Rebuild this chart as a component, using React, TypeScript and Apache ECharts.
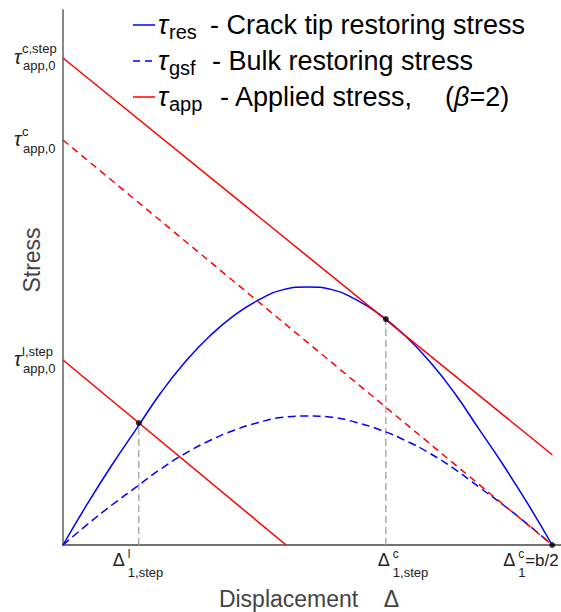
import React, { useEffect, useRef } from 'react';
import * as echarts from 'echarts';

// Displacement (fraction of b/2) and stresses (normalised to peak crack-tip restoring stress)
const displacement = [0, 0.05, 0.1, 0.15, 0.2, 0.25, 0.3, 0.35, 0.4, 0.45, 0.5, 0.55, 0.6, 0.65, 0.7, 0.75, 0.8, 0.85, 0.9, 0.95, 1.0];
const tauRes = [0, 0.16, 0.31, 0.45, 0.59, 0.71, 0.81, 0.89, 0.95, 0.99, 1.0, 0.99, 0.95, 0.89, 0.81, 0.71, 0.59, 0.45, 0.31, 0.16, 0];
const tauGsf = [0, 0.08, 0.155, 0.225, 0.295, 0.355, 0.405, 0.445, 0.475, 0.495, 0.5, 0.495, 0.475, 0.445, 0.405, 0.355, 0.295, 0.225, 0.155, 0.08, 0];

// Applied stress lines (start / end points)
const appliedCStep = [[0, 1.888], [1, 0.35]];
const appliedC = [[0, 1.57], [1, 0]];
const appliedLStep = [[0, 0.717], [0.456, 0]];

// Marked points
const stepPoints = [[0.155, 0.473], [0.66, 0.876]];
const endPoint = [1, 0];

// Tick labels
const xTickValues = [0.155, 0.66, 1];
const xTickSup = ['l', 'c', 'c'];
const xTickSub = ['1,step', '1,step', '1'];
const xTickTail = ['', '', '=b/2'];

const yTickValues = [0.717, 1.57, 1.888];
const yTickSup = ['l,step', 'c', 'c,step'];
const yTickSub = ['app,0', 'app,0', 'app,0'];

const legendSubs = ['res', 'gsf', 'app'];
const legendTexts = ['- Crack tip restoring stress', '- Bulk restoring stress', '- Applied stress,'];

const FONT = 'Liberation Sans, Arial, Helvetica, sans-serif';

function txt(x: number, y: number, text: string, size: number, opts: any = {}) {
  return {
    type: 'text',
    x,
    y,
    rotation: opts.rotation || 0,
    silent: true,
    z: 10,
    style: {
      text,
      font: `${opts.italic ? 'italic ' : ''}${size}px ${FONT}`,
      fill: opts.color || '#000',
      align: opts.align || 'left',
      verticalAlign: 'middle',
      textAlign: opts.align || 'left',
      textVerticalAlign: 'middle',
      rich: opts.rich,
    },
  };
}

export default function App() {
  const ref = useRef<HTMLDivElement>(null);
  useEffect(() => {
    if (!ref.current) return;
    const chart = echarts.init(ref.current, undefined, { renderer: 'svg' });
    const blue = '#0000ff';
    const red = '#ff0000';
    const line = (name: string, data: number[][], color: string, type: any, z = 2, smooth = false, width = 1.5) => ({
      name,
      type: 'line',
      data,
      smooth,
      showSymbol: false,
      symbol: 'none',
      z,
      lineStyle: { color, width, type },
      silent: true,
    });
    const resData = displacement.map((x, i) => [x, tauRes[i]]);
    const gsfData = displacement.map((x, i) => [x, tauGsf[i]]);

    chart.setOption({
      animation: false,
      backgroundColor: '#fff',
      grid: { left: 63, right: 0, top: 10, bottom: 67, containLabel: false, outerBoundsMode: 'none' },
      xAxis: {
        type: 'value', min: 0, max: 1.018,
        axisLine: { show: true, lineStyle: { color: '#444', width: 1.5 } },
        axisTick: { show: false },
        splitLine: { show: false },
        axisLabel: { show: false },
      },
      yAxis: {
        type: 'value', min: 0, max: 2.074,
        axisLine: { show: true, lineStyle: { color: '#888', width: 2 } },
        axisTick: { show: false },
        splitLine: { show: false },
        axisLabel: { show: false },
      },
      series: [
        ...stepPoints.map((p, k) => line('guide' + k, [[p[0], 0], p], '#999', [7, 4], 1, false, 1.2)),
        line('τgsf', gsfData, blue, [8, 4.5], 2, true),
        line('τres', resData, blue, 'solid', 2, true),
        line('τapp c', appliedC, red, [7, 5], 3),
        line('τapp c,step', appliedCStep, red, 'solid', 3),
        line('τapp l,step', appliedLStep, red, 'solid', 3),
        {
          type: 'scatter',
          data: [...stepPoints, endPoint],
          symbolSize: 6,
          itemStyle: { color: '#000' },
          z: 5,
          silent: true,
        },
      ],
    });

    const graphic: any[] = [];
    // Legend
    const legendRows = [25, 61, 97];
    const legendColors = [blue, blue, red];
    const legendDash: any[] = [null, [7, 5], null];
    const legendTextX = [210, 212, 220];
    legendRows.forEach((y, i) => {
      graphic.push({
        type: 'line',
        silent: true,
        shape: { x1: 133, y1: y, x2: i === 1 ? 152 : 155, y2: y },
        style: { stroke: legendColors[i], lineWidth: 1.5, lineDash: legendDash[i] || undefined },
      });
      graphic.push(txt(158, y, 'τ', 27, { italic: true }));
      graphic.push(txt(169, y + 7, legendSubs[i], 20));
      graphic.push(txt(legendTextX[i], y, legendTexts[i], 27));
    });
    graphic.push(txt(445, 97, '({b|β}=2)', 27, {
      rich: { b: { fontStyle: 'italic', fontSize: 27, fontFamily: FONT, fill: '#000' } },
    }));
    // Axis titles
    graphic.push(txt(32, 260, 'Stress', 23, { rotation: Math.PI / 2, align: 'center', color: '#444' }));
    graphic.push(txt(309, 599, 'Displacement    Δ', 23, { align: 'center', color: '#444' }));

    // Y tick labels, placed through the axis scale
    yTickValues.forEach((v, i) => {
      const py = chart.convertToPixel({ gridIndex: 0 }, [0, v])[1];
      graphic.push(txt(14, py - 1, 'τ', 20, { italic: true, color: '#222' }));
      graphic.push(txt(22, py - 9, yTickSup[i], 13, { color: '#222' }));
      graphic.push(txt(23, py + 8, yTickSub[i], 13, { color: '#222' }));
    });

    // X tick labels, placed through the axis scale
    const xLabelShift = [-26, -8, -49];
    xTickValues.forEach((v, i) => {
      const px = chart.convertToPixel({ gridIndex: 0 }, [v, 0])[0];
      const left = px + xLabelShift[i];
      graphic.push(txt(left, 560, 'Δ', 18, { color: '#222' }));
      graphic.push(txt(left + 15, 554, xTickSup[i], 12, { color: '#222' }));
      graphic.push(txt(left + 15, 572, xTickSub[i], 13, { color: '#222' }));
      if (xTickTail[i]) graphic.push(txt(left + 22, 560, xTickTail[i], 17, { color: '#222' }));
    });

    chart.setOption({ graphic });
    return () => chart.dispose();
  }, []);
  return (
    <div
      ref={ref}
      style={{ position: 'absolute', left: 0, top: 0, width: 561, height: 612, background: '#fff' }}
    />
  );
}
